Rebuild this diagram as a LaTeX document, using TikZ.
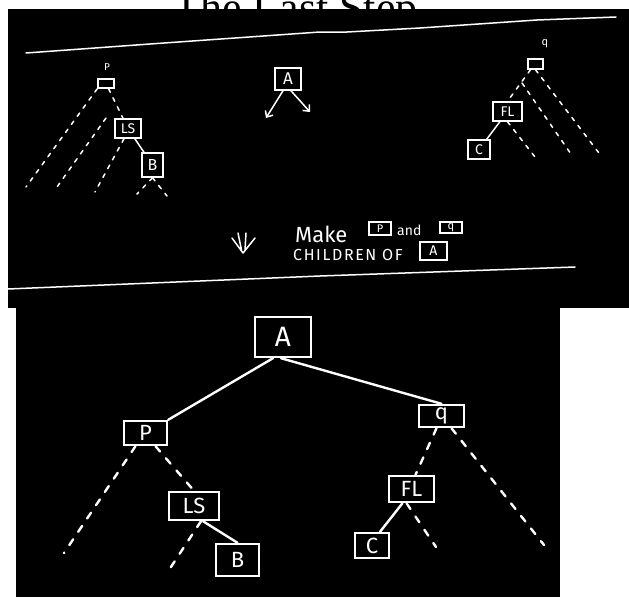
\documentclass[tikz,border=0pt]{standalone}
\usepackage{fontspec}
\usetikzlibrary{positioning,arrows.meta,calc}
\newfontfamily\titlefont{Liberation Serif}
\newfontfamily\hand{Fira Sans}
\newfontfamily\handwide[LetterSpace=10]{Fira Sans}
\definecolor{board}{HTML}{000000}
\definecolor{chalk}{HTML}{FFFFFF}
\definecolor{paper}{HTML}{FFFFFF}

\begin{document}
\begin{tikzpicture}[x=1pt,y=-1pt,
  pen/.style={chalk,line width=1.5pt,line cap=round,line join=round},
  bigpen/.style={chalk,line width=2.4pt,line cap=round,line join=round},
  smallbox/.style={draw=chalk,line width=1.5pt,text=chalk,inner sep=0pt,font=\hand\fontsize{14}{14}\selectfont},
  bigbox/.style={draw=chalk,line width=2.4pt,text=chalk,inner sep=0pt,font=\hand\fontsize{22}{22}\selectfont},
  subtree/.style={pen,dash pattern=on 4pt off 6pt},
  bigsubtree/.style={bigpen,dash pattern=on 7pt off 9pt},
  note/.style={text=chalk,inner sep=0pt,font=\hand}]
\useasboundingbox[fill=paper] (0,0) rectangle (629,597);
\node[font=\titlefont\fontsize{44}{44}\selectfont,anchor=base] (title) at (295.5,22) {The Last Step};
\fill[board] (8,9) rectangle (629,308);
\fill[board] (16,308) rectangle (560,597);
\draw[pen] (26,53) -- (150,44) -- (320,32) -- (347,32) -- (420,28) -- (537,20) -- (616,17);
\draw[pen] (8,289) -- (320,276) -- (575,267);

\node[smallbox,minimum width=16pt,minimum height=9pt] (p) at (106,83.5) {};
\node[note,font=\hand\fontsize{10}{10}\selectfont] (plabel) at (107,67) {P};
\node[smallbox,minimum width=26pt,minimum height=19pt] (ls) at (128,128.5) {LS};
\node[smallbox,minimum width=21pt,minimum height=24pt,font=\hand\fontsize{16}{16}\selectfont] (b) at (152.5,165) {B};
\coordinate (p1) at (26,187);
\coordinate (p2a) at (106,118);
\coordinate (p2b) at (57,187);
\coordinate (ls1) at (95,192);
\coordinate (bl) at (137,194);
\coordinate (br) at (167,196);
\draw[subtree] (p.south west) -- (p1);
\draw[subtree] (p2a) -- (p2b);
\draw[subtree] (p) -- (ls);
\draw[subtree] ($(ls.south)+(-4,0)$) -- (ls1);
\draw[pen] (ls) -- (b);
\draw[subtree] (b.south) -- (bl);
\draw[subtree] (b.south) -- (br);

\node[smallbox,minimum width=26pt,minimum height=22pt,font=\hand\fontsize{17}{17}\selectfont] (a) at (288,79) {A};
\coordinate (al) at (266,118);
\coordinate (ar) at (310,112);
\draw[pen,-{Straight Barb[length=5pt,width=9pt]}] ($(a.south)+(-5,0)$) -- (al);
\draw[pen,-{Straight Barb[length=5pt,width=9pt]}] ($(a.south)+(3,0)$) -- (ar);

\node[smallbox,minimum width=15pt,minimum height=10pt] (q) at (535.5,64) {};
\node[note,font=\hand\fontsize{11}{11}\selectfont] (qlabel) at (545,44) {q};
\node[smallbox,minimum width=29pt,minimum height=19pt] (fl) at (507.5,111.5) {FL};
\node[smallbox,minimum width=22pt,minimum height=19pt] (c) at (479,149.5) {C};
\coordinate (q2a) at (522,83);
\coordinate (q2b) at (573,157);
\coordinate (q3) at (602,157);
\coordinate (fl1) at (535,157);
\draw[subtree] ($(q.south)+(-5,0)$) -- (fl.north);
\draw[subtree] (q2a) -- (q2b);
\draw[subtree] (q.south) -- (q3);
\draw[pen] (fl) -- (c);
\draw[subtree] (fl.south) -- (fl1);

\draw[pen] (238,233) -- (241.5,250) (246,233) -- (245,250) (232,238) -- (243,253) -- (255,238);
\node[note,anchor=base west,font=\hand\fontsize{22}{22}\selectfont] (make) at (295,242) {Make};
\node[smallbox,minimum width=22pt,minimum height=13pt,line width=1.2pt,font=\hand\fontsize{11}{11}\selectfont] (mp) at (380,228.5) {P};
\node[note,anchor=base west,font=\hand\fontsize{14}{14}\selectfont] (and) at (397,235) {and};
\node[smallbox,minimum width=22pt,minimum height=11pt,line width=1.2pt,font=\hand\fontsize{11}{11}\selectfont] (mq) at (451,227.5) {q};
\node[note,anchor=base west,font=\handwide\fontsize{16}{16}\selectfont] (children) at (293,260) {CHILDREN OF};
\node[smallbox,minimum width=27pt,minimum height=18pt,line width=1.2pt,font=\hand\fontsize{14}{14}\selectfont] (ma) at (433.5,251) {A};

\node[bigbox,minimum width=56pt,minimum height=40pt,font=\hand\fontsize{28}{28}\selectfont] (na) at (283,337) {A};
\node[bigbox,minimum width=43pt,minimum height=24pt] (np) at (145.5,433) {P};
\node[bigbox,minimum width=45pt,minimum height=22pt] (nq) at (441.5,416) {q};
\node[bigbox,minimum width=50pt,minimum height=28pt] (nls) at (194,506) {LS};
\node[bigbox,minimum width=43pt,minimum height=32pt] (nb) at (237.5,560) {B};
\node[bigbox,minimum width=45pt,minimum height=26pt] (nfl) at (411.5,489) {FL};
\node[bigbox,minimum width=34pt,minimum height=25pt] (nc) at (372,545.5) {C};
\coordinate (npl) at (64,553);
\coordinate (nlsl) at (167,573);
\coordinate (nqr) at (544,545);
\coordinate (nflr) at (436,547);
\draw[bigpen] ($(na.south)+(-10,0)$) -- (np.north east);
\draw[bigpen] ($(na.south)+(-2,0)$) -- (nq.north);
\draw[bigsubtree] ($(np.south)+(-10,0)$) -- (npl);
\draw[bigsubtree] ($(np.south)+(10,0)$) -- (nls.north);
\draw[bigsubtree] ($(nls.south)+(7,0)$) -- (nlsl);
\draw[bigpen] ($(nls.south)+(9,0)$) -- (nb.north);
\draw[bigsubtree] ($(nq.south)+(-5,0)$) -- ($(nfl.north)+(4,0)$);
\draw[bigsubtree] ($(nq.south)+(10,0)$) -- (nqr);
\draw[bigpen] ($(nfl.south)+(-9,0)$) -- ($(nc.north)+(8,0)$);
\draw[bigsubtree] ($(nfl.south)+(-5,0)$) -- (nflr);
\end{tikzpicture}
\end{document}
